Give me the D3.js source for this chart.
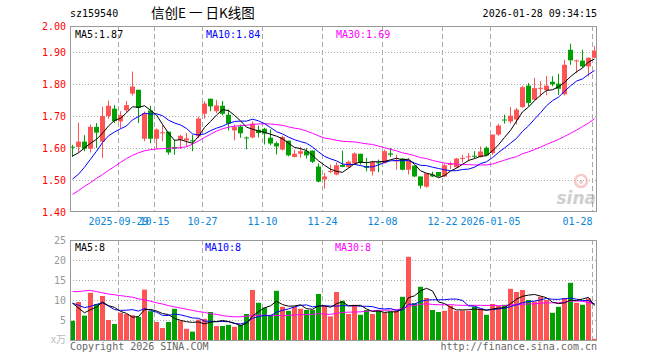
<!DOCTYPE html>
<html><head><meta charset="utf-8">
<script src="https://cdn.jsdelivr.net/npm/d3@7"></script>
<style>
body{margin:0;background:#fff}
svg{display:block}
text{font-family:"DejaVu Sans Mono","Liberation Mono",monospace;font-size:10px}
</style>
</head><body>
<svg id="c" width="660" height="360"></svg>
<script>
const dates=["2025-09-17","2025-09-18","2025-09-19","2025-09-22","2025-09-23","2025-09-24","2025-09-25","2025-09-26","2025-09-29","2025-09-30",
"2025-10-09","2025-10-10","2025-10-13","2025-10-14","2025-10-15","2025-10-16","2025-10-17","2025-10-20","2025-10-21","2025-10-22","2025-10-23","2025-10-24","2025-10-27","2025-10-28","2025-10-29","2025-10-30","2025-10-31",
"2025-11-03","2025-11-04","2025-11-05","2025-11-06","2025-11-07","2025-11-10","2025-11-11","2025-11-12","2025-11-13","2025-11-14","2025-11-17","2025-11-18","2025-11-19","2025-11-20","2025-11-21","2025-11-24","2025-11-25","2025-11-26","2025-11-27","2025-11-28",
"2025-12-01","2025-12-02","2025-12-03","2025-12-04","2025-12-05","2025-12-08","2025-12-09","2025-12-10","2025-12-11","2025-12-12","2025-12-15","2025-12-16","2025-12-17","2025-12-18","2025-12-19","2025-12-22","2025-12-23","2025-12-24","2025-12-25","2025-12-26","2025-12-29","2025-12-30","2025-12-31",
"2026-01-05","2026-01-06","2026-01-07","2026-01-08","2026-01-09","2026-01-12","2026-01-13","2026-01-14","2026-01-15","2026-01-16","2026-01-19","2026-01-20","2026-01-21","2026-01-22","2026-01-23","2026-01-26","2026-01-27","2026-01-28"];

const open=[1.604,1.603,1.620,1.598,1.666,1.620,1.700,1.723,1.683,1.718,1.770,1.782,1.629,1.717,1.629,1.647,1.651,1.603,1.626,1.624,1.624,1.636,1.707,1.754,1.715,1.732,1.704,1.655,1.667,1.633,1.633,1.657,1.660,1.632,1.615,1.595,1.623,1.572,1.582,1.590,1.592,1.542,1.502,1.525,1.517,1.547,1.540,1.552,1.582,1.543,1.527,1.555,1.553,1.583,1.558,1.567,1.532,1.545,1.511,1.479,1.517,1.525,1.511,1.547,1.540,1.567,1.571,1.576,1.572,1.601,1.584,1.642,1.689,1.683,1.689,1.728,1.795,1.751,1.786,1.781,1.807,1.801,1.768,1.907,1.872,1.873,1.855,1.882];
const high=[1.610,1.679,1.640,1.673,1.678,1.729,1.748,1.734,1.715,1.747,1.839,1.782,1.714,1.732,1.661,1.673,1.651,1.626,1.641,1.647,1.641,1.698,1.746,1.754,1.750,1.747,1.720,1.673,1.673,1.636,1.683,1.670,1.663,1.658,1.620,1.639,1.623,1.595,1.603,1.600,1.592,1.552,1.523,1.548,1.555,1.592,1.561,1.586,1.582,1.569,1.560,1.564,1.595,1.600,1.579,1.569,1.569,1.545,1.511,1.521,1.526,1.525,1.551,1.557,1.569,1.579,1.584,1.590,1.605,1.605,1.642,1.676,1.704,1.728,1.725,1.795,1.803,1.819,1.809,1.825,1.824,1.832,1.876,1.926,1.876,1.907,1.884,1.918];
const low=[1.572,1.586,1.590,1.586,1.600,1.569,1.691,1.678,1.661,1.712,1.764,1.678,1.621,1.615,1.597,1.621,1.579,1.579,1.597,1.605,1.590,1.631,1.692,1.715,1.709,1.702,1.655,1.624,1.632,1.596,1.630,1.633,1.611,1.609,1.580,1.592,1.574,1.571,1.570,1.567,1.553,1.493,1.473,1.521,1.515,1.540,1.538,1.548,1.548,1.527,1.514,1.524,1.551,1.572,1.532,1.530,1.517,1.509,1.473,1.476,1.509,1.509,1.509,1.534,1.538,1.555,1.558,1.566,1.570,1.576,1.579,1.638,1.676,1.676,1.673,1.725,1.730,1.749,1.761,1.765,1.793,1.766,1.764,1.860,1.834,1.850,1.824,1.882];
const close=[1.602,1.620,1.598,1.666,1.648,1.700,1.732,1.684,1.702,1.734,1.792,1.725,1.709,1.629,1.658,1.649,1.586,1.598,1.638,1.630,1.622,1.692,1.739,1.730,1.733,1.707,1.676,1.665,1.646,1.631,1.676,1.647,1.645,1.614,1.605,1.634,1.577,1.582,1.590,1.577,1.557,1.495,1.511,1.528,1.546,1.541,1.557,1.583,1.553,1.538,1.556,1.553,1.590,1.579,1.561,1.532,1.561,1.511,1.482,1.521,1.511,1.511,1.546,1.550,1.567,1.569,1.574,1.573,1.589,1.577,1.642,1.670,1.686,1.701,1.720,1.790,1.741,1.787,1.788,1.795,1.799,1.785,1.860,1.874,1.874,1.855,1.882,1.904];

const ma5=[1.575,1.585,1.600,1.615,1.627,1.646,1.669,1.686,1.693,1.710,1.729,1.727,1.732,1.718,1.703,1.674,1.646,1.624,1.626,1.620,1.615,1.636,1.664,1.683,1.703,1.720,1.717,1.702,1.685,1.665,1.659,1.653,1.649,1.643,1.637,1.629,1.615,1.602,1.598,1.592,1.577,1.560,1.546,1.534,1.527,1.524,1.537,1.551,1.556,1.554,1.557,1.557,1.558,1.563,1.568,1.563,1.565,1.549,1.529,1.521,1.517,1.507,1.514,1.528,1.537,1.549,1.561,1.567,1.574,1.576,1.591,1.610,1.633,1.655,1.684,1.713,1.728,1.748,1.765,1.780,1.782,1.791,1.805,1.823,1.838,1.850,1.869,1.878];
const ma10=[1.503,1.518,1.540,1.565,1.590,1.617,1.638,1.650,1.660,1.669,1.688,1.698,1.709,1.706,1.707,1.701,1.687,1.678,1.672,1.661,1.644,1.641,1.644,1.654,1.662,1.668,1.677,1.683,1.684,1.684,1.690,1.685,1.676,1.664,1.651,1.644,1.634,1.626,1.620,1.615,1.603,1.588,1.574,1.566,1.560,1.550,1.548,1.549,1.545,1.541,1.541,1.547,1.555,1.560,1.561,1.560,1.561,1.553,1.546,1.545,1.540,1.536,1.532,1.529,1.529,1.533,1.534,1.540,1.551,1.557,1.570,1.586,1.600,1.615,1.630,1.652,1.669,1.690,1.710,1.732,1.748,1.759,1.777,1.794,1.809,1.816,1.830,1.842];
const ma30=[1.455,1.467,1.480,1.492,1.505,1.517,1.530,1.542,1.555,1.567,1.577,1.585,1.591,1.595,1.597,1.598,1.599,1.600,1.601,1.604,1.612,1.622,1.633,1.643,1.653,1.660,1.665,1.668,1.670,1.671,1.674,1.675,1.676,1.675,1.673,1.671,1.666,1.662,1.659,1.653,1.646,1.638,1.631,1.628,1.624,1.621,1.620,1.619,1.616,1.613,1.611,1.606,1.601,1.596,1.591,1.585,1.581,1.576,1.570,1.567,1.561,1.557,1.553,1.551,1.550,1.548,1.548,1.547,1.547,1.547,1.550,1.556,1.562,1.568,1.573,1.582,1.588,1.595,1.603,1.611,1.619,1.627,1.636,1.646,1.656,1.667,1.678,1.691];

const volume=[4.8,9.5,6.1,11.8,9.0,11.0,5.0,4.0,6.8,6.5,6.2,5.8,12.6,7.2,4.5,3.0,4.5,7.8,4.8,2.8,2.1,5.1,5.3,7.0,3.5,3.5,3.8,3.3,3.8,6.5,12.5,9.3,8.1,6.3,12.3,8.3,7.3,8.3,7.8,7.5,7.5,11.5,8.5,5.9,12.0,9.8,6.5,8.8,6.3,7.5,6.5,7.3,6.9,7.1,7.3,10.8,20.8,9.2,13.3,10.5,7.5,7.0,7.3,8.6,7.3,7.4,7.3,8.3,7.8,6.3,9.0,8.5,8.8,12.8,12.0,12.5,10.0,9.6,10.8,10.0,6.8,8.3,10.5,14.3,9.3,8.8,10.4,0.3];
const vma5=[9.2,8.0,6.8,7.6,8.24,9.48,8.58,8.16,7.16,6.66,5.70,5.86,7.58,7.66,7.26,6.62,6.36,5.40,4.92,4.58,4.40,4.52,4.02,4.46,4.60,4.88,4.62,4.22,3.58,4.18,5.98,7.08,8.04,8.54,9.70,8.86,8.46,8.50,8.80,7.84,7.68,8.52,8.56,8.18,9.08,9.54,8.54,8.60,8.68,7.78,7.12,7.28,6.90,7.06,7.02,7.88,10.58,11.04,12.28,12.92,12.26,9.50,9.12,8.18,7.54,7.52,7.58,7.78,7.62,7.42,7.74,7.98,8.08,9.08,10.22,10.92,11.22,11.38,10.98,10.58,9.44,9.10,9.28,9.98,9.84,10.24,10.66,8.62];
const vma10=[9.2,8.7,8.1,8.4,8.9,9.3,8.5,7.6,7.4,7.45,7.59,7.22,7.87,7.41,6.96,6.16,6.11,6.49,6.29,5.92,5.51,5.44,4.71,4.69,4.59,4.64,4.57,4.12,4.02,4.39,5.43,5.85,6.13,6.06,6.94,7.42,7.77,8.27,8.67,8.77,8.27,8.49,8.53,8.49,8.46,8.61,8.53,8.58,8.43,8.43,8.33,7.91,7.75,7.87,7.40,7.50,8.93,8.97,9.67,9.97,10.07,10.04,10.08,10.23,10.23,9.89,8.54,8.45,7.90,7.48,7.63,7.78,7.93,8.35,8.82,9.33,9.60,9.73,10.03,10.40,10.18,10.16,10.33,10.48,10.21,9.84,9.88,8.95];
const vma30=[12.1,12.1,12.3,12.4,12.1,11.8,11.5,11.3,11.1,10.9,10.7,10.3,10.0,9.7,9.3,9.0,8.6,8.3,8.0,7.7,7.4,7.1,6.9,6.6,6.4,6.1,5.9,5.8,5.8,5.92,6.18,6.17,6.24,6.05,6.16,6.07,6.15,6.29,6.33,6.36,6.40,6.59,6.46,6.41,6.66,6.89,6.96,6.99,7.04,7.20,7.34,7.42,7.47,7.47,7.60,7.84,8.41,8.61,8.92,9.06,8.89,8.81,8.79,8.86,8.70,8.67,8.67,8.67,8.67,8.63,8.68,8.58,8.59,8.82,8.82,8.91,9.02,9.05,9.20,9.28,9.29,9.33,9.45,9.69,9.75,9.69,9.34,9.04];

const priceTicks=[1.40,1.50,1.60,1.70,1.80,1.90,2.00];
const volTicks=[5,10,15,20,25];
const tickDates=["2025-09-29","2025-10-15","2025-10-27","2025-11-10","2025-11-24","2025-12-08","2025-12-22","2026-01-05","2026-01-28"];
const tickLabels=["2025-09-29","10-15","10-27","11-10","11-24","12-08","12-22","2026-01-05","01-28"];
const legendPrice=["MA5:1.87","MA10:1.84","MA30:1.69"];
const legendVol=["MA5:8","MA10:8","MA30:8"];

const RED="#ff5454",GREEN="#00a000",GRID="#aaaaaa",FRAME="#999999";
const svg=d3.select("#c");
const L=70,R=597,PT=26,PB=212,VT=240,VB=340;

const x=d3.scaleBand().domain(dates).range([L,R]).paddingInner(1/6).paddingOuter(0);
const bw=x.bandwidth();
const cx=d=>x(d)+bw/2;
const y=d3.scaleLinear().domain([1.40,2.00]).range([212,20]);
const yv=d3.scaleLinear().domain([0,25]).range([VB,VT]);

const defs=svg.append("defs");
defs.append("clipPath").attr("id","cp").append("rect").attr("x",L).attr("y",PT).attr("width",R-L).attr("height",PB-PT);
defs.append("clipPath").attr("id","cv").append("rect").attr("x",L).attr("y",VT).attr("width",R-L).attr("height",VB-VT);

// header
svg.append("text").attr("x",70).attr("y",17).text("sz159540").attr("fill","#000");
svg.append("text").attr("x",151).attr("y",18).text("信创E 一 日K线图")
  .style("font-family","'Noto Sans CJK SC',sans-serif").style("font-size","13.5px").attr("fill","#000");
svg.append("text").attr("x",597).attr("y",17).attr("text-anchor","end").text("2026-01-28 09:34:15").attr("fill","#000");

// price grid
const gp=svg.append("g");
gp.selectAll("line.h").data(priceTicks.filter(t=>t>1.41&&t<1.99)).join("line")
  .attr("x1",L).attr("x2",R).attr("y1",d=>Math.round(y(d))+0.5).attr("y2",d=>Math.round(y(d))+0.5)
  .attr("stroke",GRID).attr("stroke-dasharray","1,2");
const tickIdx=tickDates.map(d=>dates.indexOf(d));
function vgrid(g,t,b){
  g.selectAll("line.v").data(tickDates).join("line")
   .attr("x1",d=>x(d)+0.5).attr("x2",d=>x(d)+0.5).attr("y1",t).attr("y2",b)
   .attr("stroke",GRID).attr("stroke-dasharray","5,3");
}
vgrid(gp,PT,PB);

// price labels
svg.append("g").selectAll("text").data(priceTicks).join("text")
  .attr("x",66).attr("y",d=>Math.max(y(d),PT)+4).attr("text-anchor","end")
  .attr("fill","#ff0000").text(d=>d.toFixed(2));

// candles
const idx=d3.range(dates.length);
const gc=svg.append("g").attr("clip-path","url(#cp)");
const col=i=>close[i]>=open[i]?RED:GREEN;
gc.selectAll("rect.w").data(idx).join("rect")
  .attr("x",i=>Math.floor(cx(dates[i]))).attr("width",1)
  .attr("y",i=>y(high[i])).attr("height",i=>Math.max(1,y(low[i])-y(high[i])))
  .attr("fill",col);
gc.selectAll("rect.b").data(idx).join("rect")
  .attr("x",i=>x(dates[i])).attr("width",bw)
  .attr("y",i=>y(Math.max(open[i],close[i])))
  .attr("height",i=>Math.max(1,Math.abs(y(open[i])-y(close[i]))))
  .attr("fill",col);

function maLine(g,arr,yy,color){
  g.append("path").datum(idx).attr("fill","none").attr("stroke",color).attr("stroke-width",1)
   .attr("d",d3.line().x(i=>cx(dates[i])).y(i=>yy(arr[i])));
}
maLine(gc,ma30,y,"#ff00ff");
maLine(gc,ma10,y,"#0000ff");
maLine(gc,ma5,y,"#000000");

// sina watermark
const wm=svg.append("g").attr("opacity",0.55);
wm.append("circle").attr("cx",581).attr("cy",181).attr("r",6).attr("fill","none").attr("stroke","#f3a0a0").attr("stroke-width",2.5);
wm.append("circle").attr("cx",581).attr("cy",182).attr("r",2).attr("fill","#f3a0a0");
wm.append("text").attr("x",596).attr("y",204).attr("text-anchor","end")
  .style("font-family","'DejaVu Sans',sans-serif").style("font-size","17px").style("font-style","italic").style("font-weight","bold")
  .attr("fill","#a8a8a8").text("sina");

// price frame
svg.append("rect").attr("x",L+0.5).attr("y",PT+0.5).attr("width",R-L-1).attr("height",PB-PT-1)
  .attr("fill","none").attr("stroke",FRAME);

// legends
const lgColors=["#000000","#0000ff","#ff00ff"];
const lgX=[75,206,336];
svg.append("g").selectAll("text").data(legendPrice).join("text")
  .attr("x",(d,i)=>lgX[i]).attr("y",38).attr("fill",(d,i)=>lgColors[i]).text(d=>d);

// x labels
svg.append("g").selectAll("text").data(tickLabels).join("text")
  .attr("x",(d,i)=>x(tickDates[i])+(i===tickLabels.length-1?0.5:0.5))
  .attr("text-anchor",(d,i)=>i===tickLabels.length-1?"end":"middle")
  .attr("y",225).attr("fill","#0a86d8").text(d=>d);

// volume grid
const gv=svg.append("g");
gv.selectAll("line.h").data(volTicks.filter(t=>t<25)).join("line")
  .attr("x1",L).attr("x2",R).attr("y1",d=>Math.round(yv(d))+0.5).attr("y2",d=>Math.round(yv(d))+0.5)
  .attr("stroke",GRID).attr("stroke-dasharray","1,2");
vgrid(gv,VT,VB);
svg.append("g").selectAll("text").data(volTicks).join("text")
  .attr("x",66).attr("y",d=>yv(d)+4).attr("text-anchor","end").attr("fill","#999").text(d=>d);
svg.append("text").attr("x",66).attr("y",VB+3).attr("text-anchor","end").attr("fill","#bbb").style("font-size","10px")
  .style("font-family","'Noto Sans CJK SC',sans-serif").text("x万");

const gvb=svg.append("g").attr("clip-path","url(#cv)");
gvb.selectAll("rect").data(idx).join("rect")
  .attr("x",i=>x(dates[i])).attr("width",bw)
  .attr("y",i=>yv(volume[i])).attr("height",i=>VB-yv(volume[i]))
  .attr("fill",col);
maLine(gvb,vma30,yv,"#ff00ff");
maLine(gvb,vma10,yv,"#0000ff");
maLine(gvb,vma5,yv,"#000000");

svg.append("rect").attr("x",L+0.5).attr("y",VT+0.5).attr("width",R-L-1).attr("height",VB-VT)
  .attr("fill","none").attr("stroke",FRAME);
svg.append("g").selectAll("text").data(legendVol).join("text")
  .attr("x",(d,i)=>[75,205,335][i]).attr("y",251).attr("fill",(d,i)=>lgColors[i]).text(d=>d);

// footer
svg.append("text").attr("x",70).attr("y",350).attr("fill","#666").text("Copyright 2026 SINA.COM");
svg.append("text").attr("x",597).attr("y",350).attr("text-anchor","end").attr("fill","#666").text("http://finance.sina.com.cn");
</script>
</body></html>
